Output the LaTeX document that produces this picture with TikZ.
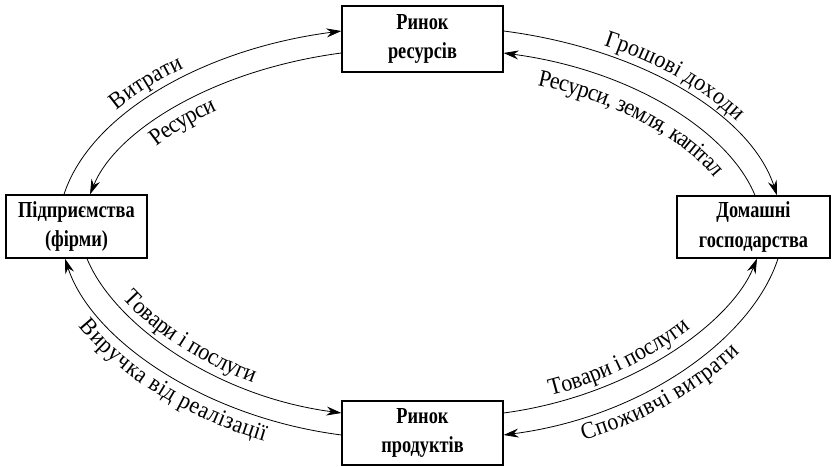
\documentclass[tikz,border=0pt]{standalone}
\usepackage{fontspec}
\setmainfont{Liberation Serif}
\newfontfamily\boxfam[FakeStretch=0.8]{Liberation Serif}
\newfontfamily\labfam[FakeStretch=0.92]{Liberation Serif}
\usetikzlibrary{arrows.meta,decorations.text}
\newcommand{\boxfont}{\boxfam\fontsize{23}{30}\selectfont\bfseries}
\newcommand{\labfont}{\labfam\fontsize{24}{26}\selectfont}
\tikzset{
  market/.style={draw, line width=1.2bp, align=center, inner sep=0pt, font=\boxfont},
  flow/.style={line width=0.8bp, -{Stealth[length=15bp,width=9bp]}},
  rflow/.style={line width=0.8bp, {Stealth[length=15bp,width=9bp]}-},
  ontext/.style n args={3}{postaction={decorate, decoration={text along path, text={|\labfont|#1}, text align={left, left indent=#2}, raise=#3}}},
}

\begin{document}
\begin{tikzpicture}[x=1bp, y=1bp]
    \useasboundingbox (0,0) rectangle (836,467);

    \node[market, minimum width=161bp, minimum height=66bp] (resmkt) at (422.5,428) {Ринок\\ресурсів};
    \node[market, minimum width=141bp, minimum height=63bp] (firms) at (76.5,240.5) {Підприємства\\(фірми)};
    \node[market, minimum width=153bp, minimum height=62bp] (house) at (753.5,240) {Домашні\\господарства};
    \node[market, minimum width=161bp, minimum height=64bp] (prodmkt) at (422.5,34) {Ринок\\продуктів};

    % верхня половина
    \draw[flow, ontext={Витрати}{98bp}{8bp}] ([xshift=-12.5bp]firms.north) .. controls +(26,80) and +(-139,-18) .. ([yshift=8bp]resmkt.west);
    \draw[rflow, ontext={Ресурси}{85bp}{-22bp}] ([xshift=13.5bp]firms.north) .. controls +(26,64) and +(-128,-17) .. ([yshift=-14bp]resmkt.west);
    \draw[flow, ontext={Грошові доходи}{100bp}{8bp}] ([yshift=8bp]resmkt.east) .. controls +(139,-18) and +(-26,80) .. ([xshift=23.5bp]house.north);
    \draw[rflow, ontext={Ресурси, земля, капітал}{40bp}{-26bp}] ([yshift=-14bp]resmkt.east) .. controls +(128,-17) and +(-26,64) .. ([xshift=1.5bp]house.north);

    % нижня половина
    \draw[flow, ontext={Товари і послуги}{55bp}{8bp}] ([xshift=10.5bp]firms.south) .. controls +(26,-64) and +(-128,17) .. ([yshift=20bp]prodmkt.west);
    \draw[rflow, ontext={Виручка від реалізації}{62bp}{-22bp}] ([xshift=-11.5bp]firms.south) .. controls +(26,-80) and +(-139,18) .. ([yshift=-2bp]prodmkt.west);
    \draw[flow, ontext={Товари і послуги}{50bp}{8bp}] ([yshift=20bp]prodmkt.east) .. controls +(128,17) and +(-26,-64) .. ([xshift=3.5bp]house.south);
    \draw[rflow, ontext={Споживчі витрати}{75bp}{-22bp}] ([yshift=-2bp]prodmkt.east) .. controls +(139,18) and +(-26,-80) .. ([xshift=24.5bp]house.south);

\end{tikzpicture}
\end{document}
